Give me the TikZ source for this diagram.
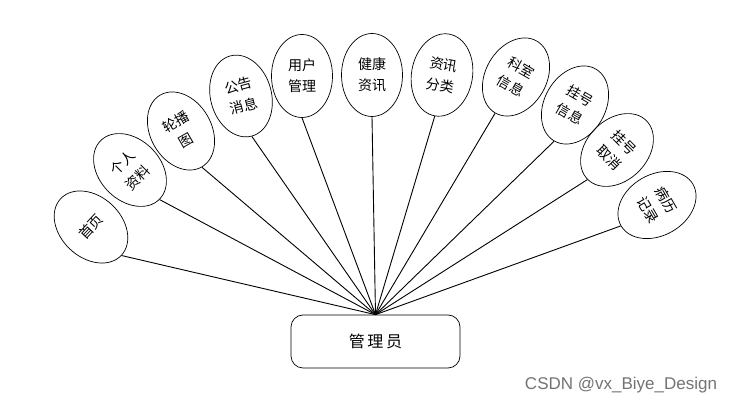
\documentclass[tikz,border=0pt]{standalone}
\usepackage{fontspec}
\setmainfont{Noto Sans CJK SC}
\newfontfamily\wmfont{Liberation Sans}
\usepackage{tikz}
\usetikzlibrary{shapes.geometric}

\begin{document}
\begin{tikzpicture}[x=1pt, y=1pt,
   e/.style={draw, ellipse, line width=0.7pt, minimum width=61pt, minimum height=83pt, inner sep=0pt, align=center, font=\fontsize{14}{21}\selectfont},
   l/.style={line width=0.9pt}]
  \useasboundingbox (0,0) rectangle (739,406);
  \node[draw, line width=0.7pt, rounded corners=12pt, minimum width=169pt, minimum height=53pt, font=\fontsize{16}{18}\selectfont] (adm) at (375.5,64.5) {管\,理\,员};
  % fan of function ellipses
  \node[e, rotate=47]  (sy) at (91,179)  {首页};
  \node[e, rotate=45]  (gr) at (130,236) {个人\\资料};
  \node[e, rotate=30]  (lb) at (181,275) {轮播\\图};
  \node[e, rotate=15]  (gg) at (241,310) {公告\\消息};
  \node[e]             (yh) at (302,330) {用户\\管理};
  \node[e]             (jk) at (372,331) {健康\\资讯};
  \node[e, rotate=-10] (zx) at (442,331) {资讯\\分类};
  \node[e, rotate=-30] (ks) at (516,329) {科室\\信息};
  \node[e, rotate=-30] (gh) at (575,301) {挂号\\信息};
  \node[e, rotate=-45] (qx) at (617,256) {挂号\\取消};
  \node[e, rotate=-60] (bl) at (657,201) {病历\\记录};
  \draw[l] (adm.north) -- (sy.south);
  \draw[l] (adm.north) -- (gr.south);
  \draw[l] (adm.north) -- (lb.south);
  \draw[l] (adm.north) -- (gg.south);
  \draw[l] (adm.north) -- (yh.south);
  \draw[l] (adm.north) -- (jk.south);
  \draw[l] (adm.north) -- (zx.south);
  \draw[l] (adm.north) -- (ks.south);
  \draw[l] (adm.north) -- (gh.south);
  \draw[l] (adm.north) -- (qx.south);
  \draw[l] (adm.north) -- (bl.south);
  \node[text=black!55, font=\wmfont\fontsize{17}{19}\selectfont] (wm) at (621,21) {CSDN @vx\_Biye\_Design};
\end{tikzpicture}
\end{document}
